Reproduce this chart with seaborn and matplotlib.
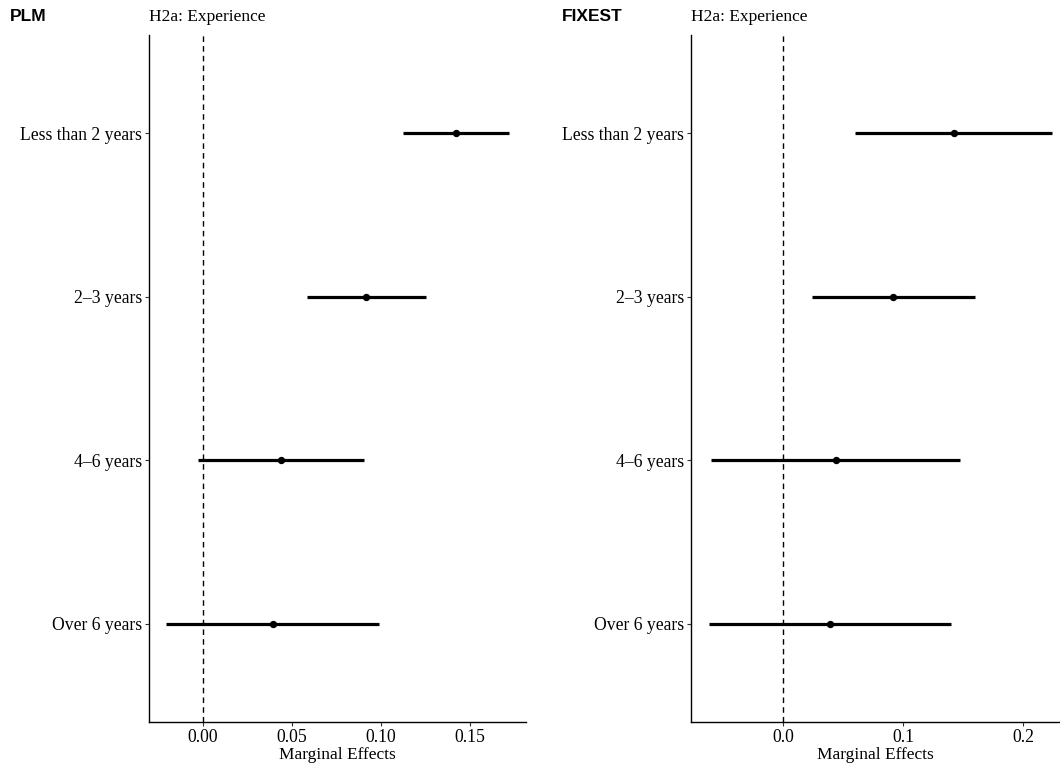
import numpy as np
import pandas as pd
import seaborn as sns
import matplotlib.pyplot as plt

# categories, top to bottom
categories = ["Less than 2 years", "2–3 years", "4–6 years", "Over 6 years"]

# PLM estimates
plm_est = [0.1423, 0.0919, 0.0442, 0.0393]
plm_low = [0.1127, 0.0588, -0.0025, -0.0204]
plm_high = [0.1721, 0.1253, 0.0908, 0.0990]

# FIXEST estimates
fix_est = [0.1422, 0.0917, 0.0439, 0.0392]
fix_low = [0.0603, 0.0244, -0.0595, -0.0614]
fix_high = [0.2239, 0.1594, 0.1475, 0.1400]

plm_ticks = [0.00, 0.05, 0.10, 0.15]
plm_ticklabels = ["0.00", "0.05", "0.10", "0.15"]
fix_ticks = [0.0, 0.1, 0.2]
fix_ticklabels = ["0.0", "0.1", "0.2"]

sns.set_theme(style="ticks")
plt.rcParams['font.family'] = ['Liberation Serif', 'DejaVu Serif']
plt.rcParams['text.color'] = 'black'
plt.rcParams['axes.labelcolor'] = 'black'


def make_frame(est, low, high):
    df = pd.DataFrame({"term": categories, "estimate": est, "low": low, "high": high})
    # top category gets the highest position
    df["pos"] = np.arange(len(categories))[::-1] + 1
    return df


def draw_panel(ax, df, ticks, ticklabels, xlim):
    ax.axvline(0, color="black", linestyle=(0, (4, 3)), linewidth=1.0, zorder=1)
    ax.hlines(df["pos"], df["low"], df["high"], color="black", linewidth=2.3, zorder=2)
    sns.scatterplot(data=df, x="estimate", y="pos", ax=ax, color="black", s=28,
                    edgecolor="black", linewidth=0, zorder=3, legend=False)

    ax.set_ylim(0.4, len(categories) + 0.6)
    ax.set_yticks(df["pos"])
    ax.set_yticklabels(df["term"])
    ax.set_xlim(*xlim)
    ax.set_xticks(ticks)
    ax.set_xticklabels(ticklabels)
    ax.set_xlabel("Marginal Effects", fontsize=12.5, labelpad=1, color="black")
    ax.set_ylabel("")
    ax.tick_params(axis="both", labelsize=12.7, length=3, width=0.8,
                   color="#333333", labelcolor="black", pad=2)

    sns.despine(ax=ax)
    for side in ["left", "bottom"]:
        ax.spines[side].set_color("black")
        ax.spines[side].set_linewidth(1.0)

    ax.set_title("H2a: Experience", loc="left", fontsize=12.5, pad=10, x=0.0,
                 color="black")
    ax.set_facecolor("white")
    return ax


fig = plt.figure(figsize=(10.6, 7.66), dpi=100)
fig.patch.set_facecolor("white")

ax1 = fig.add_axes([0.1406, 0.0574, 0.3557, 0.8969])
ax2 = fig.add_axes([0.6519, 0.0574, 0.3481, 0.8969])

draw_panel(ax1, make_frame(plm_est, plm_low, plm_high), plm_ticks, plm_ticklabels,
           (-0.0302, 0.1816))
draw_panel(ax2, make_frame(fix_est, fix_low, fix_high), fix_ticks, fix_ticklabels,
           (-0.0764, 0.2305))

fig.text(0.009, 0.979, "PLM", fontsize=12.5, fontweight="bold", color="black",
         family=["Liberation Sans", "DejaVu Sans"], va="center", ha="left")
fig.text(0.530, 0.979, "FIXEST", fontsize=12.5, fontweight="bold", color="black",
         family=["Liberation Sans", "DejaVu Sans"], va="center", ha="left")

fig.savefig("out.png", dpi=100, facecolor="white")
